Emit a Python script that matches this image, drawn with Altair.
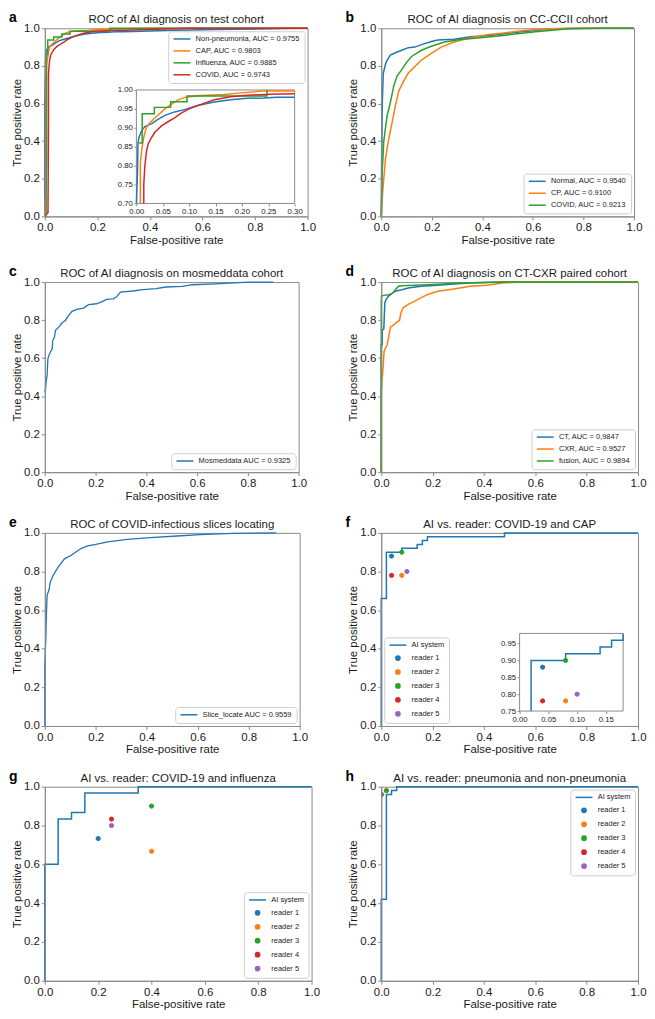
import altair as alt
import pandas as pd

FONT = "Liberation Sans"
BLUE, ORANGE, GREEN, RED, PURPLE = "#1f77b4", "#ff7f0e", "#2ca02c", "#d62728", "#9467bd"
SPINE = "#8a8a8a"
INK = "#1a1a1a"
TICKS = [0.0, 0.2, 0.4, 0.6, 0.8, 1.0]
LINE_SYM = "M-4,0H4"

# ---------------- panel a : test cohort ----------------
A_NAMES = ["Non-pneumonia, AUC = 0.9755", "CAP, AUC = 0.9803",
           "Influenza, AUC = 0.9885", "COVID, AUC = 0.9743"]
A_COLORS = [BLUE, ORANGE, GREEN, RED]
A_NONPNEU_FPR = [0, 0, 0.002, 0.003, 0.005, 0.010, 0.016, 0.029, 0.041, 0.054, 0.0725, 0.091,
                 0.116, 0.1475, 0.179, 0.21, 0.241, 0.266, 0.30, 0.40, 0.50, 0.65, 0.80, 0.95, 1.0]
A_NONPNEU_TPR = [0, 0.60, 0.78, 0.86, 0.875, 0.892, 0.903, 0.911, 0.922, 0.933, 0.942, 0.948,
                 0.959, 0.968, 0.974, 0.978, 0.979, 0.981, 0.981, 0.985, 0.99, 0.993, 0.996, 1.0, 1.0]
A_CAP_FPR = [0, 0.0075, 0.0075, 0.010, 0.014, 0.019, 0.026, 0.035, 0.044, 0.054, 0.066, 0.079,
             0.094, 0.116, 0.166, 0.204, 0.241, 0.30, 0.40, 1.0]
A_CAP_TPR = [0, 0.30, 0.807, 0.841, 0.875, 0.901, 0.914, 0.926, 0.937, 0.950, 0.962, 0.974,
             0.981, 0.985, 0.988, 0.993, 0.997, 0.997, 1.0, 1.0]
A_FLU_FPR = [0, 0.005, 0.005, 0.011, 0.011, 0.034, 0.034, 0.065, 0.065, 0.096, 0.096, 0.2475, 0.2475, 1.0]
A_FLU_TPR = [0, 0, 0.860, 0.860, 0.937, 0.937, 0.954, 0.954, 0.969, 0.969, 0.984, 0.984, 1.0, 1.0]
A_COVID_FPR = [0, 0.012, 0.014, 0.014, 0.016, 0.019, 0.0225, 0.029, 0.035, 0.0475, 0.06, 0.0725,
               0.085, 0.10, 0.1225, 0.1475, 0.179, 0.21, 0.254, 0.30, 0.40, 0.55, 1.0]
A_COVID_TPR = [0, 0.02, 0.50, 0.75, 0.798, 0.837, 0.858, 0.875, 0.888, 0.905, 0.916, 0.926,
               0.939, 0.950, 0.962, 0.974, 0.982, 0.986, 0.989, 0.990, 0.994, 1.0, 1.0]
A_INSET_XTICKS = [0.0, 0.05, 0.10, 0.15, 0.20, 0.25, 0.30]
A_INSET_YTICKS = [0.70, 0.75, 0.80, 0.85, 0.90, 0.95, 1.00]

# ---------------- panel b : CC-CCII ----------------
B_NAMES = ["Normal, AUC = 0.9540", "CP, AUC = 0.9100", "COVID, AUC = 0.9213"]
B_COLORS = [BLUE, ORANGE, GREEN]
B_NORMAL_FPR = [0, 0.002, 0.004, 0.008, 0.017, 0.023, 0.036, 0.056, 0.081, 0.107, 0.133, 0.159,
                0.198, 0.224, 0.288, 0.353, 0.418, 0.483, 0.547, 0.612, 0.677, 0.806, 1.0]
B_NORMAL_TPR = [0, 0.40, 0.60, 0.76, 0.81, 0.83, 0.857, 0.87, 0.883, 0.897, 0.90, 0.913,
                0.93, 0.937, 0.942, 0.955, 0.96, 0.97, 0.98, 0.988, 0.997, 1.0, 1.0]
B_CP_FPR = [0, 0.006, 0.017, 0.03, 0.043, 0.056, 0.069, 0.088, 0.107, 0.133, 0.159, 0.198, 0.237,
            0.288, 0.353, 0.418, 0.483, 0.547, 0.612, 0.677, 0.75, 1.0]
B_CP_TPR = [0, 0.136, 0.31, 0.414, 0.50, 0.588, 0.666, 0.718, 0.762, 0.797, 0.831, 0.866, 0.90,
            0.927, 0.95, 0.965, 0.975, 0.985, 0.993, 0.998, 1.0, 1.0]
B_COVID_FPR = [0, 0.004, 0.010, 0.023, 0.036, 0.049, 0.062, 0.081, 0.101, 0.120, 0.159, 0.198,
               0.25, 0.314, 0.392, 0.483, 0.547, 0.612, 0.677, 0.741, 0.871, 1.0]
B_COVID_TPR = [0, 0.24, 0.40, 0.535, 0.605, 0.69, 0.745, 0.78, 0.82, 0.85, 0.883, 0.904,
               0.927, 0.94, 0.95, 0.962, 0.972, 0.981, 0.99, 0.997, 1.0, 1.0]

# ---------------- panel c : mosmeddata ----------------
C_NAMES = ["Mosmeddata AUC = 0.9325"]
C_FPR = [0, 0.003, 0.005, 0.009, 0.012, 0.016, 0.022, 0.029, 0.031, 0.038, 0.042, 0.055, 0.068,
         0.081, 0.094, 0.107, 0.126, 0.152, 0.172, 0.204, 0.23, 0.243, 0.269, 0.282, 0.298, 0.347,
         0.386, 0.438, 0.477, 0.542, 0.581, 0.672, 0.802, 0.90]
C_TPR = [0.42, 0.44, 0.474, 0.51, 0.596, 0.614, 0.632, 0.649, 0.693, 0.711, 0.746, 0.763, 0.786,
         0.798, 0.825, 0.846, 0.856, 0.863, 0.881, 0.886, 0.90, 0.909, 0.912, 0.921, 0.947, 0.953,
         0.96, 0.965, 0.974, 0.977, 0.986, 0.991, 1.0, 1.0]

# ---------------- panel d : CT-CXR ----------------
D_NAMES = ["CT, AUC = 0,9847", "CXR, AUC = 0.9527", "fusion, AUC = 0.9894"]
D_COLORS = [BLUE, ORANGE, GREEN]
D_CT_FPR = [0, 0.0, 0.004, 0.004, 0.01, 0.014, 0.019, 0.029, 0.042, 0.055, 0.08, 0.105, 0.156,
            0.22, 0.283, 0.346, 0.41, 0.473, 1.0]
D_CT_TPR = [0, 0.67, 0.67, 0.746, 0.755, 0.892, 0.909, 0.926, 0.94, 0.952, 0.96, 0.969, 0.978,
            0.983, 0.99, 0.995, 0.998, 1.0, 1.0]
D_CXR_FPR = [0, 0.0, 0.004, 0.008, 0.011, 0.016, 0.023, 0.029, 0.036, 0.048, 0.061, 0.071, 0.077,
             0.086, 0.105, 0.131, 0.156, 0.181, 0.22, 0.283, 0.346, 0.41, 0.473, 0.537, 1.0]
D_CXR_TPR = [0, 0.42, 0.497, 0.566, 0.635, 0.652, 0.669, 0.712, 0.763, 0.775, 0.789, 0.798, 0.84,
             0.866, 0.883, 0.90, 0.918, 0.935, 0.952, 0.964, 0.978, 0.983, 0.995, 1.0, 1.0]
D_FUSION_FPR = [0, 0.0, 0.001, 0.01, 0.029, 0.042, 0.055, 0.067, 0.08, 0.131, 0.22, 0.308, 0.385, 0.473, 1.0]
D_FUSION_TPR = [0, 0.89, 0.926, 0.93, 0.933, 0.94, 0.96, 0.978, 0.981, 0.983, 0.988, 0.995, 0.998, 1.0, 1.0]

# ---------------- panel e : slices locating ----------------
E_NAMES = ["Slice_locate AUC = 0.9559"]
E_FPR = [0, 0.0, 0.004, 0.006, 0.009, 0.016, 0.022, 0.032, 0.045, 0.058, 0.078, 0.104, 0.123,
         0.142, 0.168, 0.201, 0.246, 0.324, 0.415, 0.518, 0.609, 0.738, 0.907]
E_TPR = [0, 0.316, 0.453, 0.574, 0.678, 0.703, 0.747, 0.778, 0.807, 0.833, 0.867, 0.884, 0.902,
         0.919, 0.933, 0.941, 0.953, 0.966, 0.976, 0.984, 0.991, 0.997, 1.0]

# ---------------- panels f, g, h : AI vs readers ----------------
LEGEND_NAMES = ["AI system", "reader 1", "reader 2", "reader 3", "reader 4", "reader 5"]
LEGEND_COLORS = [BLUE, BLUE, ORANGE, GREEN, RED, PURPLE]
LEGEND_SHAPES = [LINE_SYM, "circle", "circle", "circle", "circle", "circle"]
READERS = ["reader 1", "reader 2", "reader 3", "reader 4", "reader 5"]

F_AI_FPR = [0, 0, 0.02, 0.02, 0.08, 0.08, 0.14, 0.14, 0.16, 0.16, 0.18, 0.18, 0.48, 0.48, 1.0]
F_AI_TPR = [0, 0.66, 0.66, 0.90, 0.90, 0.92, 0.92, 0.94, 0.94, 0.96, 0.96, 0.98, 0.98, 1.0, 1.0]
F_READER_FPR = [0.04, 0.08, 0.08, 0.04, 0.10]
F_READER_TPR = [0.88, 0.78, 0.90, 0.78, 0.80]
F_INSET_XTICKS = [0.0, 0.05, 0.10, 0.15]
F_INSET_YTICKS = [0.75, 0.80, 0.85, 0.90, 0.95]

G_AI_FPR = [0, 0, 0.05, 0.05, 0.10, 0.10, 0.15, 0.15, 0.35, 0.35, 1.0]
G_AI_TPR = [0, 0.60, 0.60, 0.833, 0.833, 0.867, 0.867, 0.967, 0.967, 1.0, 1.0]
G_READER_FPR = [0.20, 0.40, 0.40, 0.25, 0.25]
G_READER_TPR = [0.733, 0.667, 0.90, 0.833, 0.80]

H_AI_FPR = [0, 0, 0.02, 0.02, 0.04, 0.04, 0.06, 0.06, 1.0]
H_AI_TPR = [0, 0.42, 0.42, 0.96, 0.96, 0.98, 0.98, 1.0, 1.0]
H_READER_FPR = [0.0, 0.02, 0.02, 0.0, 0.0]
H_READER_TPR = [0.96, 0.98, 0.98, 0.96, 0.96]

# ---------------- layout constants ----------------
ROW_H = [189, 191, 194, 195]
LEFT_W = [264, 255, 256, 268]
RIGHT_W = [254, 258, 258, 258]
ROW_GAPS = [18, 13, 13]
HEAD_Y = -5
INDEP = dict(color="independent", stroke="independent", shape="independent")


def roc_frame(names, fprs, tprs):
    rows = []
    for name, f, t in zip(names, fprs, tprs):
        for i, (x, y) in enumerate(zip(f, t)):
            rows.append({"series": name, "fpr": x, "tpr": y, "i": i})
    return pd.DataFrame(rows)


def pts_frame(names, fprs, tprs):
    return pd.DataFrame({"series": names, "fpr": fprs, "tpr": tprs})


def sc(dom, rng=None):
    kw = dict(domain=list(dom), nice=False, zero=False, clamp=True)
    if rng is not None:
        kw["range"] = list(rng)
    return alt.Scale(**kw)


def main_x():
    return alt.X("fpr:Q", scale=sc((0, 1)),
                 axis=alt.Axis(title="False-positive rate", values=TICKS, format=".1f", zindex=1))


def main_y():
    return alt.Y("tpr:Q", scale=sc((0, 1)),
                 axis=alt.Axis(title="True positive rate", values=TICKS, format=".1f", zindex=1))


def inset_axis(orient, offset, values):
    return alt.Axis(title=None, orient=orient, offset=offset, values=values, format=".2f",
                    labelFontSize=7.8, tickSize=2.5, labelPadding=1.5, domain=False, zindex=1)


def legend(orient, line_symbol=True):
    kw = dict(title=None, orient=orient, offset=3, padding=4, fillColor="white",
              strokeColor="#cfcfcf", cornerRadius=3, labelFont=FONT, labelFontSize=7.5,
              labelColor=INK, labelLimit=400, symbolStrokeWidth=1.5, symbolSize=18,
              symbolOffset=6, labelOffset=10, rowPadding=3)
    if line_symbol:
        kw.update(symbolType=LINE_SYM)
    return alt.Legend(**kw)


def curve_layer(df, names, colors, orient, x=None, y=None, width=1.5):
    return alt.Chart(df).mark_line(strokeWidth=width).encode(
        x=x if x is not None else main_x(),
        y=y if y is not None else main_y(),
        color=alt.Color("series:N", scale=alt.Scale(domain=names, range=colors),
                        legend=legend(orient)),
        order=alt.Order("i:Q"),
    )


def step_layer(df, x=None, y=None):
    return alt.Chart(df).mark_line(strokeWidth=1.5, color=BLUE).encode(
        x=x if x is not None else main_x(),
        y=y if y is not None else main_y(),
        order=alt.Order("i:Q"),
    )


def reader_layer(df, orient, x=None, y=None, clip=True):
    leg = legend(orient, line_symbol=False)
    return alt.Chart(df).mark_point(filled=True, size=18, strokeWidth=1, opacity=1, clip=clip).encode(
        x=x if x is not None else main_x(),
        y=y if y is not None else main_y(),
        color=alt.Color("series:N", scale=alt.Scale(domain=LEGEND_NAMES, range=LEGEND_COLORS), legend=leg),
        stroke=alt.Stroke("series:N", scale=alt.Scale(domain=LEGEND_NAMES, range=LEGEND_COLORS), legend=leg),
        shape=alt.Shape("series:N", scale=alt.Scale(domain=LEGEND_NAMES, range=LEGEND_SHAPES), legend=leg),
    )


def box_layer(x0, x1, ytop, ybot):
    return alt.Chart(pd.DataFrame({"box": [0]})).mark_rect(
        fill="white", stroke=SPINE, strokeWidth=1).encode(
        x=alt.value(x0), x2=alt.value(x1), y=alt.value(ytop), y2=alt.value(ybot))


def header_layers(letter, title, width):
    df = pd.DataFrame({"label": [letter], "title": [title]})
    let = alt.Chart(df).mark_text(
        align="left", baseline="alphabetic", font=FONT, fontSize=14, fontWeight="bold",
        color="black").encode(text="label:N", x=alt.value(-36), y=alt.value(HEAD_Y - 1))
    ttl = alt.Chart(df).mark_text(
        align="center", baseline="alphabetic", font=FONT, fontSize=11.5, color=INK).encode(
        text="title:N", x=alt.value(width / 2), y=alt.value(HEAD_Y))
    return [let, ttl]


def finish(layers, letter, title, width, height, independent=False):
    ch = alt.layer(*layers, *header_layers(letter, title, width))
    if independent:
        ch = ch.resolve_scale(x="independent", y="independent")
    return ch.properties(width=width, height=height)


# ---- panel a ----
a_df = roc_frame(A_NAMES, [A_NONPNEU_FPR, A_CAP_FPR, A_FLU_FPR, A_COVID_FPR],
                 [A_NONPNEU_TPR, A_CAP_TPR, A_FLU_TPR, A_COVID_TPR])
H = ROW_H[0]
W = LEFT_W[0]
AX = (round(W * 0.349), round(W * 0.951))
AY = (round(H * 0.328), round(H * 0.93))
a_inset = alt.Chart(a_df).transform_filter(
    "datum.fpr <= 0.3001 && datum.tpr >= 0.3").mark_line(strokeWidth=1.5).encode(
    x=alt.X("fpr:Q", scale=sc((0, 0.30), AX), axis=inset_axis("bottom", AY[1] - H, A_INSET_XTICKS)),
    y=alt.Y("tpr:Q", scale=sc((0.70, 1.00), (AY[1], AY[0])), axis=inset_axis("left", -AX[0], A_INSET_YTICKS)),
    color=alt.Color("series:N", scale=alt.Scale(domain=A_NAMES, range=A_COLORS), legend=legend("top-right")),
    order=alt.Order("i:Q"),
)
panel_a = finish([curve_layer(a_df, A_NAMES, A_COLORS, "top-right"), box_layer(AX[0], AX[1], AY[0], AY[1]), a_inset],
                 "a", "ROC of AI diagnosis on test cohort", W, H, independent=True)

# ---- panel b ----
b_df = roc_frame(B_NAMES, [B_NORMAL_FPR, B_CP_FPR, B_COVID_FPR], [B_NORMAL_TPR, B_CP_TPR, B_COVID_TPR])
panel_b = finish([curve_layer(b_df, B_NAMES, B_COLORS, "bottom-right")],
                 "b", "ROC of AI diagnosis on CC-CCII cohort", RIGHT_W[0], ROW_H[0])

# ---- panel c ----
c_df = roc_frame(C_NAMES, [C_FPR], [C_TPR])
panel_c = finish([curve_layer(c_df, C_NAMES, [BLUE], "bottom-right", width=1.3)],
                 "c", "ROC of AI diagnosis on mosmeddata cohort", LEFT_W[1], ROW_H[1])

# ---- panel d ----
d_df = roc_frame(D_NAMES, [D_CT_FPR, D_CXR_FPR, D_FUSION_FPR], [D_CT_TPR, D_CXR_TPR, D_FUSION_TPR])
panel_d = finish([curve_layer(d_df, D_NAMES, D_COLORS, "bottom-right")],
                 "d", "ROC of AI diagnosis on CT-CXR paired cohort", RIGHT_W[1], ROW_H[1])

# ---- panel e ----
e_df = roc_frame(E_NAMES, [E_FPR], [E_TPR])
panel_e = finish([curve_layer(e_df, E_NAMES, [BLUE], "bottom-right", width=1.3)],
                 "e", "ROC of COVID-infectious slices locating", LEFT_W[2], ROW_H[2])

# ---- panel f ----
f_ai = roc_frame(["AI system"], [F_AI_FPR], [F_AI_TPR])
f_rd = pts_frame(READERS, F_READER_FPR, F_READER_TPR)
H = ROW_H[2]
W = RIGHT_W[2]
FX = (round(W * 0.54), round(W * 0.943))
FY = (round(H * 0.523), round(H * 0.923))
f_ix = alt.X("fpr:Q", scale=sc((0, 0.18), FX), axis=inset_axis("bottom", FY[1] - H, F_INSET_XTICKS))
f_iy = alt.Y("tpr:Q", scale=sc((0.75, 0.98), (FY[1], FY[0])), axis=inset_axis("left", -FX[0], F_INSET_YTICKS))
f_main = alt.layer(step_layer(f_ai), reader_layer(f_rd, "bottom-left"))
f_inset = alt.layer(
    step_layer(f_ai, f_ix, f_iy).transform_filter("datum.fpr >= 0.0199 && datum.fpr <= 0.1801"),
    reader_layer(f_rd, "bottom-left", f_ix, f_iy, clip=False),
)
panel_f = finish([f_main, box_layer(FX[0], FX[1], FY[0], FY[1]), f_inset],
                 "f", "AI vs. reader: COVID-19 and CAP", W, H, independent=True)

# ---- panel g ----
g_ai = roc_frame(["AI system"], [G_AI_FPR], [G_AI_TPR])
g_rd = pts_frame(READERS, G_READER_FPR, G_READER_TPR)
panel_g = finish([step_layer(g_ai), reader_layer(g_rd, "bottom-right")],
                 "g", "AI vs. reader: COVID-19 and influenza", LEFT_W[3], ROW_H[3])

# ---- panel h ----
h_ai = roc_frame(["AI system"], [H_AI_FPR], [H_AI_TPR])
h_rd = pts_frame(READERS, H_READER_FPR, H_READER_TPR)
panel_h = finish([step_layer(h_ai), reader_layer(h_rd, "top-right")],
                 "h", "AI vs. reader:  pneumonia and non-pneumonia", RIGHT_W[3], ROW_H[3])


def hspace(w_left):
    return 292 - w_left


rows = [
    alt.hconcat(panel_a, panel_b, spacing=hspace(LEFT_W[0])).resolve_scale(**INDEP),
    alt.hconcat(panel_c, panel_d, spacing=hspace(LEFT_W[1])).resolve_scale(**INDEP),
    alt.hconcat(panel_e, panel_f, spacing=hspace(LEFT_W[2])).resolve_scale(**INDEP),
    alt.hconcat(panel_g, panel_h, spacing=hspace(LEFT_W[3])).resolve_scale(**INDEP),
]

stack = rows[0]
for gap, row in zip(ROW_GAPS, rows[1:]):
    stack = alt.vconcat(stack, row, spacing=gap).resolve_scale(**INDEP)

chart = stack.properties(
    padding={"left": 0, "top": 0, "right": 0, "bottom": 0}
).configure(
    font=FONT
).configure_view(
    stroke=SPINE, strokeWidth=1
).configure_axis(
    grid=False, domainColor=SPINE, domainWidth=1, tickColor=SPINE, tickWidth=1, tickSize=3.5,
    labelFont=FONT, labelFontSize=11.5, labelColor=INK, labelPadding=2, labelFlush=False,
    labelOverlap=False, titleFont=FONT, titleFontSize=11.5, titleFontWeight="normal",
    titleColor=INK, titlePadding=1
)

chart.save("out.html", embed_options={"renderer": "svg", "actions": False})
